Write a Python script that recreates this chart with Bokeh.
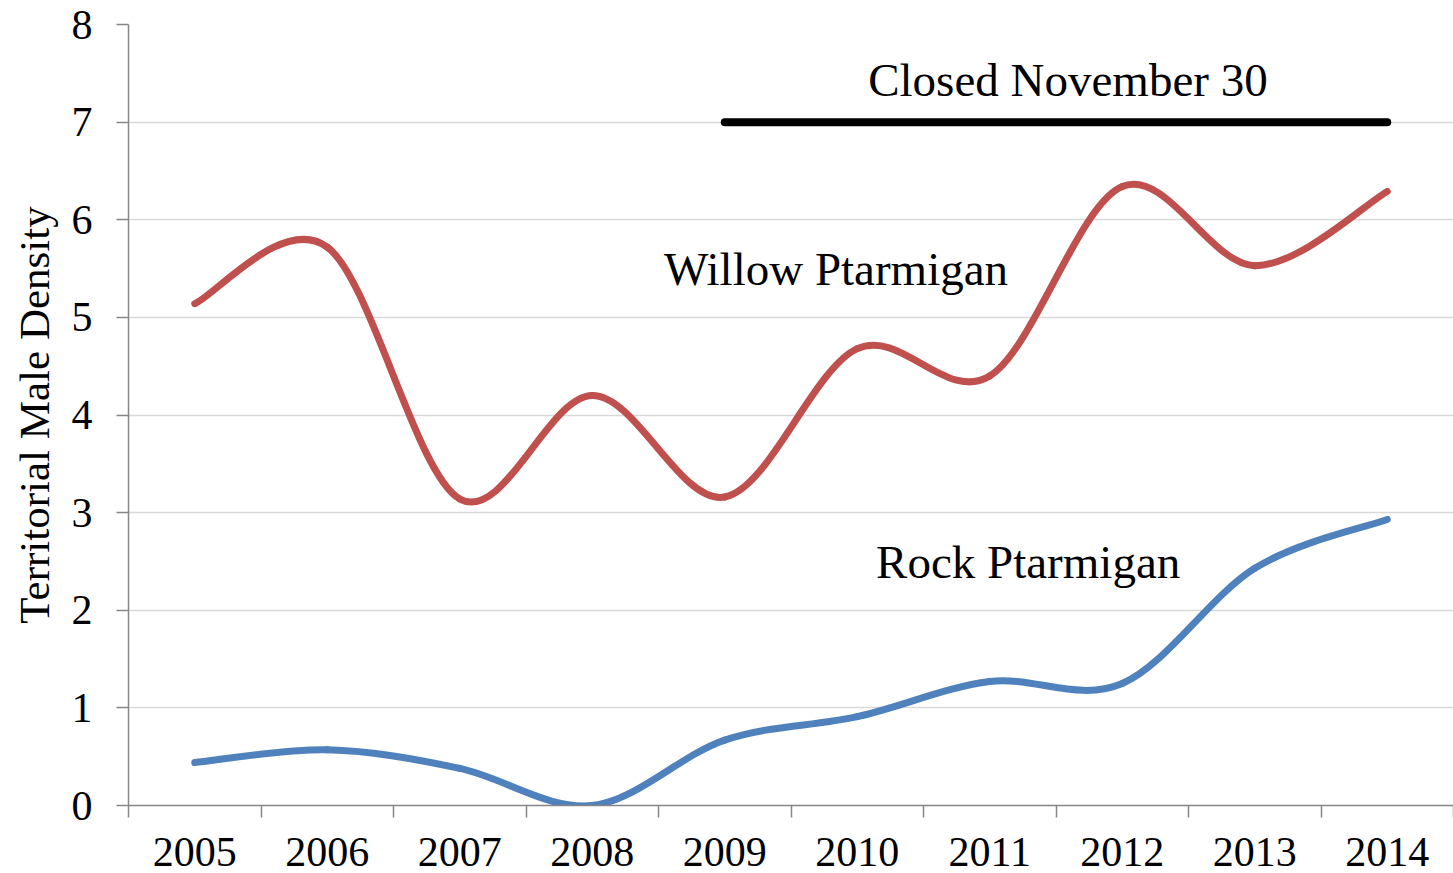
from bokeh.plotting import figure
from bokeh.models import FixedTicker, Range1d, ColumnDataSource, BasicTickFormatter
from bokeh.core.properties import value
from bokeh.embed import file_html
from bokeh.resources import INLINE

years = [2005, 2006, 2007, 2008, 2009, 2010, 2011, 2012, 2013, 2014]
willow = [5.14, 5.72, 3.14, 4.20, 3.16, 4.68, 4.40, 6.34, 5.53, 6.29]
rock = [0.44, 0.57, 0.38, 0.00, 0.67, 0.91, 1.27, 1.25, 2.43, 2.93]
closed_years = [2009, 2014]
closed_level = 7
y_ticks = [0, 1, 2, 3, 4, 5, 6, 7, 8]

FONT = "Liberation Serif"


def smooth_segments(xs, ys):
    n = len(xs)
    d = dict(x0=[], y0=[], x1=[], y1=[], cx0=[], cy0=[], cx1=[], cy1=[])
    for i in range(n - 1):
        p0 = max(i - 1, 0)
        p3 = min(i + 2, n - 1)
        d["x0"].append(xs[i]); d["y0"].append(ys[i])
        d["x1"].append(xs[i + 1]); d["y1"].append(ys[i + 1])
        d["cx0"].append(xs[i] + (xs[i + 1] - xs[p0]) / 6)
        d["cy0"].append(ys[i] + (ys[i + 1] - ys[p0]) / 6)
        d["cx1"].append(xs[i + 1] - (xs[p3] - xs[i]) / 6)
        d["cy1"].append(ys[i + 1] - (ys[p3] - ys[i]) / 6)
    return ColumnDataSource(d)


p = figure(width=1453, height=885, output_backend="svg", toolbar_location=None,
           x_range=Range1d(years[0] - 0.5, years[-1] + 0.5), y_range=Range1d(0, 8),
           min_border_left=128, min_border_right=0, min_border_top=24, min_border_bottom=80)
p.outline_line_color = None
p.background_fill_color = "white"
p.border_fill_color = "white"

p.xgrid.grid_line_color = None
p.ygrid.grid_line_color = "#D9D9D9"
p.ygrid.grid_line_width = 1.5
p.ygrid.ticker = FixedTicker(ticks=y_ticks)

# axes
xa = p.xaxis[0]
xa.ticker = FixedTicker(ticks=years, minor_ticks=[y - 0.5 for y in years] + [years[-1] + 0.5])
xa.formatter = BasicTickFormatter(use_scientific=False)
xa.major_tick_out = 0
xa.major_tick_in = 0
xa.minor_tick_out = 12
xa.minor_tick_in = 0
xa.minor_tick_line_color = "#868686"
xa.minor_tick_line_width = 1.5
xa.axis_line_color = "#868686"
xa.axis_line_width = 1.5
xa.major_label_text_font = FONT
xa.major_label_text_font_size = "42px"
xa.major_label_text_color = "black"
xa.major_label_standoff = 20

ya = p.yaxis[0]
ya.ticker = FixedTicker(ticks=y_ticks)
ya.major_tick_out = 12
ya.major_tick_in = 0
ya.minor_tick_out = 0
ya.minor_tick_in = 0
ya.major_tick_line_color = "#868686"
ya.major_tick_line_width = 1.5
ya.axis_line_color = "#868686"
ya.axis_line_width = 1.5
ya.major_label_text_font = FONT
ya.major_label_text_font_size = "42px"
ya.major_label_text_color = "black"
ya.major_label_standoff = 24
ya.axis_label = "Territorial Male Density"
ya.axis_label_text_font = FONT
ya.axis_label_text_font_size = "43px"
ya.axis_label_text_font_style = "normal"
ya.axis_label_text_color = "black"
ya.axis_label_standoff = 11

# smoothed series
p.bezier("x0", "y0", "x1", "y1", "cx0", "cy0", "cx1", "cy1",
         source=smooth_segments(years, willow), line_color="#C0504D", line_width=7,
         line_cap="round")
p.bezier("x0", "y0", "x1", "y1", "cx0", "cy0", "cx1", "cy1",
         source=smooth_segments(years, rock), line_color="#4F81BD", line_width=7,
         line_cap="round")

# closed period bar
p.line(closed_years, [closed_level, closed_level], line_color="black", line_width=8,
       line_cap="round")

# annotations
p.text(x=[2011.59], y=[7.43], text=["Closed November 30"], text_font=value(FONT),
       text_font_size="47px", text_align="center", text_baseline="middle", text_color="black")
p.text(x=[2009.84], y=[5.50], text=["Willow Ptarmigan"], text_font=value(FONT),
       text_font_size="47px", text_align="center", text_baseline="middle", text_color="black")
p.text(x=[2011.29], y=[2.49], text=["Rock Ptarmigan"], text_font=value(FONT),
       text_font_size="47px", text_align="center", text_baseline="middle", text_color="black")

open("out.html", "w").write(file_html(p, INLINE))
